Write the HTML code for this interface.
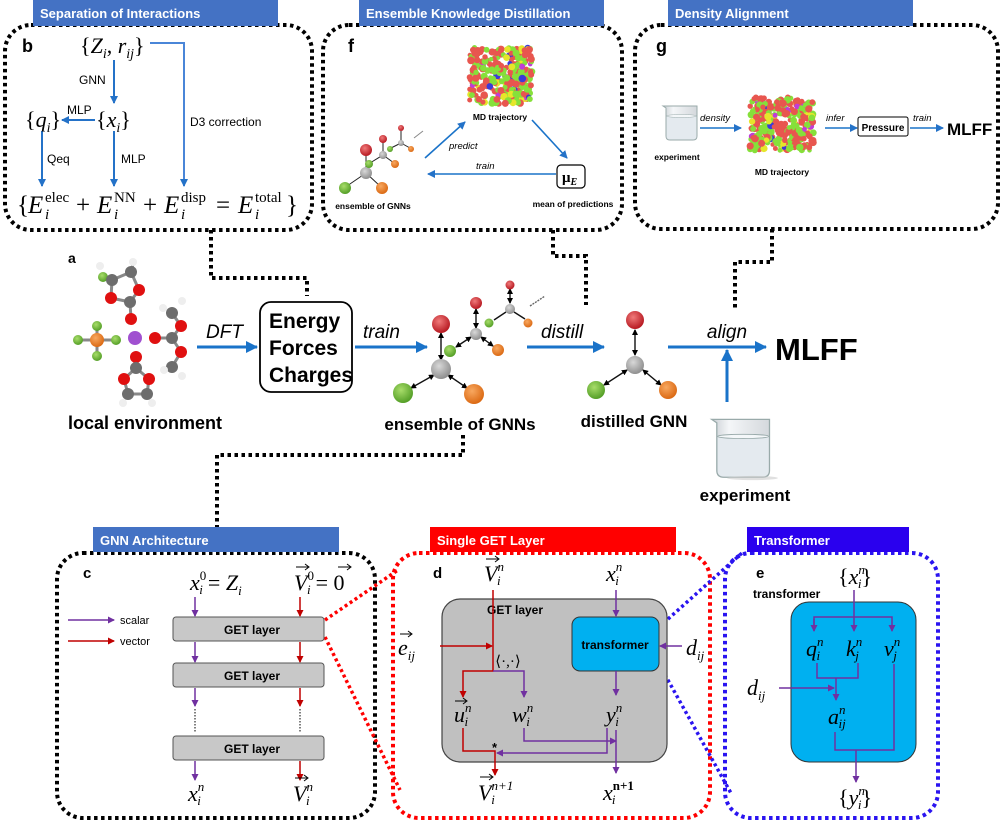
<!DOCTYPE html>
<html><head><meta charset="utf-8"><style>
html,body{margin:0;padding:0;background:#fff;}
svg{display:block;}
.t{font-family:"Liberation Sans",sans-serif;}
.b{font-family:"Liberation Sans",sans-serif;font-weight:bold;}
.m{font-family:"Liberation Serif",serif;font-style:italic;}
.r{font-family:"Liberation Serif",serif;}
</style></head><body>
<svg id="s" width="1000" height="822" viewBox="0 0 1000 822" xmlns="http://www.w3.org/2000/svg">
<defs>
<marker id="ab" markerWidth="8" markerHeight="8" refX="7" refY="4" orient="auto" markerUnits="userSpaceOnUse"><path d="M0,0 L8,4 L0,8 z" fill="#2472c8"/></marker>
<marker id="abL" markerWidth="12" markerHeight="12" refX="11" refY="6" orient="auto" markerUnits="userSpaceOnUse"><path d="M0,0 L12,6 L0,12 z" fill="#1a73c9"/></marker>
<marker id="ap" markerWidth="7" markerHeight="7" refX="6" refY="3.5" orient="auto" markerUnits="userSpaceOnUse"><path d="M0,0 L7,3.5 L0,7 z" fill="#7030a0"/></marker>
<marker id="ar" markerWidth="7" markerHeight="7" refX="6" refY="3.5" orient="auto" markerUnits="userSpaceOnUse"><path d="M0,0 L7,3.5 L0,7 z" fill="#c00000"/></marker>
<marker id="ak" markerWidth="6" markerHeight="6" refX="5" refY="3" orient="auto-start-reverse" markerUnits="userSpaceOnUse"><path d="M0,0 L6,3 L0,6 z" fill="#000"/></marker>
<radialGradient id="gR" cx="0.4" cy="0.35" r="0.7"><stop offset="0" stop-color="#f07a7a"/><stop offset="1" stop-color="#b3121b"/></radialGradient>
<radialGradient id="gG" cx="0.4" cy="0.35" r="0.7"><stop offset="0" stop-color="#a8dd6a"/><stop offset="1" stop-color="#4e9a22"/></radialGradient>
<radialGradient id="gO" cx="0.4" cy="0.35" r="0.7"><stop offset="0" stop-color="#f8a860"/><stop offset="1" stop-color="#d9650e"/></radialGradient>
<radialGradient id="gY" cx="0.4" cy="0.35" r="0.7"><stop offset="0" stop-color="#d8d8d8"/><stop offset="1" stop-color="#8a8a8a"/></radialGradient>
<linearGradient id="bk" x1="0" x2="1"><stop offset="0" stop-color="#c9ced3"/><stop offset="0.3" stop-color="#f4f6f8"/><stop offset="1" stop-color="#d4d8dc"/></linearGradient>
</defs>

<g fill="none" stroke="#000" stroke-width="4" stroke-dasharray="3.5 3.5">
<rect x="5" y="25" width="307" height="205" rx="26"/>
<rect x="323" y="25" width="299" height="205" rx="26"/>
<rect x="635" y="25" width="363" height="204" rx="26"/>
<rect x="57" y="553" width="318" height="265" rx="26"/>
<polyline points="211,230 211,278 307,278 307,296"/>
<polyline points="553,230 553,256 586,256 586,305"/>
<polyline points="772,229 772,262 735,262 735,311"/>
<polyline points="463,435 463,455 217,455 217,527"/>
</g>
<rect x="393" y="553" width="317" height="265" rx="26" fill="none" stroke="#f00" stroke-width="4" stroke-dasharray="3.5 3.5"/>
<rect x="725" y="553" width="213" height="265" rx="26" fill="none" stroke="#2a14f0" stroke-width="4" stroke-dasharray="3.5 3.5"/>
<g stroke="#f00" stroke-width="3.5" stroke-dasharray="3 3" fill="none">
<line x1="325" y1="620" x2="398" y2="570"/>
<line x1="325" y1="637" x2="400" y2="790"/>
</g>
<g stroke="#2a14f0" stroke-width="3.5" stroke-dasharray="3 3" fill="none">
<line x1="659" y1="627" x2="742" y2="553"/>
<line x1="659" y1="664" x2="732" y2="795"/>
</g>

<rect x="33" y="0" width="245" height="26" fill="#4472c4"/>
<text x="40" y="18" class="b" font-size="13" fill="#fff">Separation of Interactions</text>
<rect x="359" y="0" width="245" height="26" fill="#4472c4"/>
<text x="366" y="18" class="b" font-size="13" fill="#fff">Ensemble Knowledge Distillation</text>
<rect x="668" y="0" width="245" height="26" fill="#4472c4"/>
<text x="675" y="18" class="b" font-size="13" fill="#fff">Density Alignment</text>
<rect x="93" y="527" width="246" height="25" fill="#4472c4"/>
<text x="100" y="545" class="b" font-size="13" fill="#fff">GNN Architecture</text>
<rect x="430" y="527" width="246" height="25" fill="#f00"/>
<text x="437" y="545" class="b" font-size="13" fill="#fff">Single GET Layer</text>
<rect x="747" y="527" width="162" height="25" fill="#2a00ee"/>
<text x="754" y="545" class="b" font-size="13" fill="#fff">Transformer</text>

<!-- Panel b -->
<text x="22" y="52" class="b" font-size="18">b</text>
<text x="80" y="53" class="r" font-size="22">{<tspan class="m">Z</tspan><tspan class="m" font-size="14" dy="5">i</tspan><tspan dy="-5">, </tspan><tspan class="m">r</tspan><tspan class="m" font-size="14" dy="5">ij</tspan><tspan dy="-5">}</tspan></text>
<g stroke="#2472c8" stroke-width="2" fill="none">
<line x1="114" y1="60" x2="114" y2="103" marker-end="url(#ab)"/>
<line x1="95" y1="120" x2="62" y2="120" marker-end="url(#ab)"/>
<line x1="42" y1="131" x2="42" y2="186" marker-end="url(#ab)"/>
<line x1="114" y1="131" x2="114" y2="186" marker-end="url(#ab)"/>
<polyline points="150,43 184,43 184,186" stroke="#4a86d8" marker-end="url(#ab)"/>
</g>
<text x="79" y="84" class="t" font-size="12">GNN</text>
<text x="67" y="114" class="t" font-size="12">MLP</text>
<text x="47" y="163" class="t" font-size="12">Qeq</text>
<text x="121" y="163" class="t" font-size="12">MLP</text>
<text x="190" y="126" class="t" font-size="12">D3 correction</text>
<text x="25" y="127" class="r" font-size="22">{<tspan class="m">q</tspan><tspan class="m" font-size="14" dy="5">i</tspan><tspan dy="-5">}</tspan></text>
<text x="96" y="127" class="r" font-size="22">{<tspan class="m">x</tspan><tspan class="m" font-size="14" dy="5">i</tspan><tspan dy="-5">}</tspan></text>
<g class="r" font-size="25">
<text x="17" y="213">{</text>
<text x="28" y="213" class="m">E</text><text x="45" y="202" font-size="15">elec</text><text x="45" y="219" class="m" font-size="15">i</text>
<text x="76" y="213">+</text>
<text x="97" y="213" class="m">E</text><text x="114" y="202" font-size="15">NN</text><text x="114" y="219" class="m" font-size="15">i</text>
<text x="143" y="213">+</text>
<text x="164" y="213" class="m">E</text><text x="181" y="202" font-size="15">disp</text><text x="181" y="219" class="m" font-size="15">i</text>
<text x="216" y="213">=</text>
<text x="238" y="213" class="m">E</text><text x="255" y="202" font-size="15">total</text><text x="255" y="219" class="m" font-size="15">i</text>
<text x="286" y="213">}</text>
</g>

<!-- Panel f -->
<text x="348" y="52" class="b" font-size="18">f</text>
<g id="blobF"></g>
<text x="500" y="120" class="b" font-size="8.5" text-anchor="middle">MD trajectory</text>
<g stroke="#1a73c9" stroke-width="1.6" fill="none">
<line x1="425" y1="158" x2="465" y2="122" marker-end="url(#ab)"/>
<line x1="532" y1="120" x2="567" y2="158" marker-end="url(#ab)"/>
<line x1="556" y1="174" x2="428" y2="174" marker-end="url(#ab)"/>
</g>
<text x="449" y="149" class="t" font-style="italic" font-size="9.5">predict</text>
<text x="476" y="169" class="t" font-style="italic" font-size="9.5">train</text>
<rect x="557" y="165" width="28" height="23" rx="4" fill="#fff" stroke="#000" stroke-width="1.2"/>
<text x="562" y="182" class="r" font-weight="bold" font-size="15">μ<tspan class="m" font-size="10" dy="3">E</tspan></text>
<text x="573" y="207" class="b" font-size="8.5" text-anchor="middle">mean of predictions</text>
<g stroke="#222" stroke-width="1" fill="none">
<line x1="366" y1="156" x2="366" y2="168"/><line x1="366" y1="173" x2="347" y2="186"/><line x1="366" y1="173" x2="380" y2="186"/>
<line x1="383" y1="142" x2="383" y2="153"/><line x1="383" y1="155" x2="370" y2="163"/><line x1="383" y1="155" x2="394" y2="163"/>
<line x1="401" y1="131" x2="401" y2="141"/><line x1="401" y1="143" x2="391" y2="148"/><line x1="401" y1="143" x2="410" y2="148"/>
<line x1="414" y1="138" x2="423" y2="131" stroke="#888"/>
</g>
<circle cx="366" cy="150" r="6" fill="url(#gR)"/><circle cx="366" cy="173" r="6" fill="url(#gY)"/><circle cx="345" cy="188" r="6" fill="url(#gG)"/><circle cx="382" cy="188" r="6" fill="url(#gO)"/>
<circle cx="383" cy="139" r="4" fill="url(#gR)"/><circle cx="383" cy="155" r="4" fill="url(#gY)"/><circle cx="369" cy="164" r="4" fill="url(#gG)"/><circle cx="395" cy="164" r="4" fill="url(#gO)"/>
<circle cx="401" cy="128" r="3" fill="url(#gR)"/><circle cx="401" cy="143" r="3" fill="url(#gY)"/><circle cx="390" cy="149" r="3" fill="url(#gG)"/><circle cx="411" cy="149" r="3" fill="url(#gO)"/>
<text x="373" y="209" class="b" font-size="8.5" text-anchor="middle">ensemble of GNNs</text>

<!-- Panel g -->
<text x="656" y="52" class="b" font-size="18">g</text>
<g transform="translate(662,104) scale(0.5)">
<path d="M2,4 L8,8 L8,64 Q8,72 16,72 L62,72 Q70,72 70,64 L70,4 Z" fill="url(#bk)" stroke="#9aa" stroke-width="2"/>
<path d="M9,24 L69,24 L69,64 Q69,71 62,71 L16,71 Q9,71 9,64 Z" fill="#e4eaef"/>
<ellipse cx="39" cy="24" rx="30" ry="3" fill="#f4f7f9" stroke="#9aa"/>
</g>
<text x="677" y="160" class="b" font-size="8.5" text-anchor="middle">experiment</text>
<line x1="700" y1="128" x2="741" y2="128" stroke="#1a73c9" stroke-width="1.6" marker-end="url(#ab)"/>
<text x="700" y="121" class="t" font-style="italic" font-size="9.5">density</text>
<g id="blobG"></g>
<text x="782" y="175" class="b" font-size="8.5" text-anchor="middle">MD trajectory</text>
<line x1="825" y1="128" x2="857" y2="128" stroke="#1a73c9" stroke-width="1.6" marker-end="url(#ab)"/>
<text x="826" y="121" class="t" font-style="italic" font-size="9.5">infer</text>
<rect x="858" y="117" width="50" height="19" rx="2" fill="#fff" stroke="#000" stroke-width="1"/>
<text x="883" y="131" class="b" font-size="10" text-anchor="middle">Pressure</text>
<line x1="910" y1="128" x2="943" y2="128" stroke="#1a73c9" stroke-width="1.6" marker-end="url(#ab)"/>
<text x="913" y="121" class="t" font-style="italic" font-size="9.5">train</text>
<text x="947" y="135" class="b" font-size="17">MLFF</text>

<!-- Panel a -->
<text x="68" y="263" class="b" font-size="14">a</text>
<g stroke="#888" stroke-width="3">
<line x1="103" y1="277" x2="112" y2="280"/><line x1="112" y1="280" x2="131" y2="272"/><line x1="131" y1="272" x2="139" y2="290"/><line x1="139" y1="290" x2="130" y2="302"/><line x1="130" y1="302" x2="111" y2="298"/><line x1="111" y1="298" x2="112" y2="280"/><line x1="130" y1="302" x2="131" y2="319"/><line x1="131" y1="272" x2="133" y2="264"/>
<line x1="78" y1="340" x2="116" y2="340"/><line x1="97" y1="325" x2="97" y2="356"/>
<line x1="155" y1="338" x2="172" y2="338"/><line x1="172" y1="338" x2="181" y2="326"/><line x1="172" y1="338" x2="181" y2="352"/><line x1="181" y1="326" x2="172" y2="313"/><line x1="181" y1="352" x2="172" y2="367"/>
<line x1="136" y1="357" x2="136" y2="368"/><line x1="136" y1="368" x2="124" y2="379"/><line x1="136" y1="368" x2="149" y2="379"/><line x1="124" y1="379" x2="128" y2="394"/><line x1="149" y1="379" x2="147" y2="394"/><line x1="128" y1="394" x2="147" y2="394"/>
</g>
<g>
<circle cx="103" cy="277" r="5" fill="url(#gG)"/><circle cx="112" cy="280" r="6" fill="#6d6d6d"/><circle cx="131" cy="272" r="6" fill="#6d6d6d"/><circle cx="133" cy="262" r="4" fill="#eee"/><circle cx="100" cy="266" r="4" fill="#eee"/>
<circle cx="139" cy="290" r="6" fill="#e01010"/><circle cx="130" cy="302" r="6" fill="#6d6d6d"/><circle cx="111" cy="298" r="6" fill="#e01010"/><circle cx="131" cy="319" r="6" fill="#e01010"/>
<circle cx="78" cy="340" r="5" fill="url(#gG)"/><circle cx="116" cy="340" r="5" fill="url(#gG)"/><circle cx="97" cy="326" r="5" fill="url(#gG)"/><circle cx="97" cy="356" r="5" fill="url(#gG)"/><circle cx="97" cy="340" r="7" fill="url(#gO)"/>
<circle cx="135" cy="338" r="7" fill="#a050d0"/>
<circle cx="155" cy="338" r="6" fill="#e01010"/><circle cx="172" cy="338" r="6" fill="#6d6d6d"/><circle cx="181" cy="326" r="6" fill="#e01010"/><circle cx="181" cy="352" r="6" fill="#e01010"/>
<circle cx="172" cy="313" r="6" fill="#6d6d6d"/><circle cx="182" cy="301" r="4" fill="#eee"/><circle cx="163" cy="308" r="4" fill="#eee"/>
<circle cx="172" cy="367" r="6" fill="#6d6d6d"/><circle cx="182" cy="376" r="4" fill="#eee"/><circle cx="164" cy="370" r="4" fill="#eee"/>
<circle cx="136" cy="357" r="6" fill="#e01010"/><circle cx="136" cy="368" r="6" fill="#6d6d6d"/><circle cx="124" cy="379" r="6" fill="#e01010"/><circle cx="149" cy="379" r="6" fill="#e01010"/><circle cx="128" cy="394" r="6" fill="#6d6d6d"/><circle cx="147" cy="394" r="6" fill="#6d6d6d"/><circle cx="123" cy="403" r="4" fill="#eee"/><circle cx="152" cy="403" r="4" fill="#eee"/>
</g>
<text x="145" y="429" class="b" font-size="18" text-anchor="middle">local environment</text>
<line x1="197" y1="347" x2="257" y2="347" stroke="#1a73c9" stroke-width="3" marker-end="url(#abL)"/>
<text x="206" y="338" class="t" font-style="italic" font-size="19">DFT</text>
<rect x="260" y="302" width="92" height="90" rx="11" fill="#fff" stroke="#000" stroke-width="1.8"/>
<text x="269" y="328" class="b" font-size="21">Energy</text>
<text x="269" y="355" class="b" font-size="21">Forces</text>
<text x="269" y="382" class="b" font-size="21">Charges</text>
<line x1="355" y1="347" x2="427" y2="347" stroke="#1a73c9" stroke-width="3" marker-end="url(#abL)"/>
<text x="363" y="338" class="t" font-style="italic" font-size="19">train</text>
<g stroke="#111" stroke-width="1.4" fill="none">
<line x1="441" y1="333" x2="441" y2="360" marker-start="url(#ak)" marker-end="url(#ak)"/>
<line x1="434" y1="375" x2="411" y2="388" marker-start="url(#ak)" marker-end="url(#ak)"/>
<line x1="448" y1="375" x2="467" y2="388" marker-start="url(#ak)" marker-end="url(#ak)"/>
<line x1="476" y1="309" x2="476" y2="328" marker-start="url(#ak)" marker-end="url(#ak)"/>
<line x1="471" y1="337" x2="456" y2="347" marker-start="url(#ak)" marker-end="url(#ak)"/>
<line x1="481" y1="337" x2="493" y2="346" marker-start="url(#ak)" marker-end="url(#ak)"/>
<line x1="510" y1="289" x2="510" y2="303" marker-start="url(#ak)" marker-end="url(#ak)"/>
<line x1="506" y1="312" x2="494" y2="320"/><line x1="514" y1="312" x2="525" y2="319"/>
<line x1="530" y1="306" x2="545" y2="296" stroke="#666" stroke-dasharray="2 1"/>
</g>
<circle cx="441" cy="324" r="9" fill="url(#gR)"/><circle cx="441" cy="369" r="10" fill="url(#gY)"/><circle cx="403" cy="393" r="10" fill="url(#gG)"/><circle cx="474" cy="394" r="10" fill="url(#gO)"/>
<circle cx="476" cy="303" r="6" fill="url(#gR)"/><circle cx="476" cy="334" r="6" fill="url(#gY)"/><circle cx="450" cy="351" r="6" fill="url(#gG)"/><circle cx="498" cy="350" r="6" fill="url(#gO)"/>
<circle cx="510" cy="285" r="4.5" fill="url(#gR)"/><circle cx="510" cy="309" r="5" fill="url(#gY)"/><circle cx="489" cy="323" r="4.5" fill="url(#gG)"/><circle cx="528" cy="323" r="4.5" fill="url(#gO)"/>
<text x="460" y="430" class="b" font-size="17" text-anchor="middle">ensemble of GNNs</text>
<line x1="527" y1="347" x2="604" y2="347" stroke="#1a73c9" stroke-width="3" marker-end="url(#abL)"/>
<text x="541" y="338" class="t" font-style="italic" font-size="19">distill</text>
<g stroke="#111" stroke-width="1.4" fill="none">
<line x1="635" y1="330" x2="635" y2="355" marker-start="url(#ak)" marker-end="url(#ak)"/>
<line x1="627" y1="370" x2="604" y2="385" marker-start="url(#ak)" marker-end="url(#ak)"/>
<line x1="643" y1="370" x2="661" y2="385" marker-start="url(#ak)" marker-end="url(#ak)"/>
</g>
<circle cx="635" cy="320" r="9" fill="url(#gR)"/><circle cx="635" cy="365" r="9" fill="url(#gY)"/><circle cx="596" cy="390" r="9" fill="url(#gG)"/><circle cx="668" cy="390" r="9" fill="url(#gO)"/>
<text x="634" y="427" class="b" font-size="17" text-anchor="middle">distilled GNN</text>
<line x1="668" y1="347" x2="766" y2="347" stroke="#1a73c9" stroke-width="3" marker-end="url(#abL)"/>
<line x1="727" y1="402" x2="727" y2="350" stroke="#1a73c9" stroke-width="3" marker-end="url(#abL)"/>
<text x="727" y="338" class="t" font-style="italic" font-size="19" text-anchor="middle">align</text>
<text x="775" y="360" class="b" font-size="31">MLFF</text>
<g transform="translate(710,416) scale(0.85)">
<path d="M2,4 L8,8 L8,64 Q8,72 16,72 L62,72 Q70,72 70,64 L70,4 Z" fill="url(#bk)" stroke="#9aa" stroke-width="1.5"/>
<path d="M9,24 L69,24 L69,64 Q69,71 62,71 L16,71 Q9,71 9,64 Z" fill="#e4eaef"/>
<ellipse cx="39" cy="24" rx="30" ry="2.5" fill="#f4f7f9" stroke="#9aa"/>
<ellipse cx="50" cy="73" rx="30" ry="2.5" fill="#ccc" opacity="0.6"/>
</g>
<text x="745" y="501" class="b" font-size="17" text-anchor="middle">experiment</text>

<!-- Panel c -->
<text x="83" y="578" class="b" font-size="15">c</text>
<text x="190" y="590" class="m" font-size="22">x<tspan font-size="13" dy="-10" font-style="normal">0</tspan><tspan font-size="13" dx="-7" dy="14">i</tspan><tspan font-style="normal" dx="5" dy="-4">= </tspan>Z<tspan font-size="13" dy="5">i</tspan></text>
<text x="294" y="590" class="m" font-size="22">V<tspan font-size="13" dy="-10" font-style="normal">0</tspan><tspan font-size="13" dx="-7" dy="14">i</tspan><tspan font-style="normal" dx="5" dy="-4">= 0</tspan></text>
<path d="M296,567 L308,567 M305,564 L309,567 L305,570" stroke="#000" stroke-width="1" fill="none"/>
<path d="M338,567 L350,567 M347,564 L351,567 L347,570" stroke="#000" stroke-width="1" fill="none"/>
<line x1="68" y1="620" x2="114" y2="620" stroke="#7030a0" stroke-width="1.5" marker-end="url(#ap)"/>
<line x1="68" y1="641" x2="114" y2="641" stroke="#c00000" stroke-width="1.5" marker-end="url(#ar)"/>
<text x="120" y="624" class="t" font-size="11">scalar</text>
<text x="120" y="645" class="t" font-size="11">vector</text>
<g fill="#c8c8c8" stroke="#555" stroke-width="1">
<rect x="173" y="617" width="151" height="24" rx="3"/>
<rect x="173" y="663" width="151" height="24" rx="3"/>
<rect x="173" y="736" width="151" height="24" rx="3"/>
</g>
<text x="252" y="634" class="b" font-size="12" text-anchor="middle">GET layer</text>
<text x="252" y="680" class="b" font-size="12" text-anchor="middle">GET layer</text>
<text x="252" y="753" class="b" font-size="12" text-anchor="middle">GET layer</text>
<g stroke-width="1.5">
<line x1="195" y1="597" x2="195" y2="616" stroke="#7030a0" marker-end="url(#ap)"/>
<line x1="195" y1="642" x2="195" y2="662" stroke="#7030a0" marker-end="url(#ap)"/>
<line x1="195" y1="688" x2="195" y2="706" stroke="#7030a0" marker-end="url(#ap)"/>
<line x1="195" y1="761" x2="195" y2="780" stroke="#7030a0" marker-end="url(#ap)"/>
<line x1="300" y1="597" x2="300" y2="616" stroke="#c00000" marker-end="url(#ar)"/>
<line x1="300" y1="642" x2="300" y2="662" stroke="#c00000" marker-end="url(#ar)"/>
<line x1="300" y1="688" x2="300" y2="706" stroke="#c00000" marker-end="url(#ar)"/>
<line x1="300" y1="761" x2="300" y2="780" stroke="#c00000" marker-end="url(#ar)"/>
<line x1="195" y1="709" x2="195" y2="733" stroke="#000" stroke-width="1" stroke-dasharray="1.5 1.5"/>
<line x1="300" y1="709" x2="300" y2="733" stroke="#000" stroke-width="1" stroke-dasharray="1.5 1.5"/>
</g>
<text x="188" y="801" class="m" font-size="22">x<tspan font-size="13" dy="-10">n</tspan><tspan font-size="13" dx="-7" dy="14">i</tspan></text>
<text x="293" y="801" class="m" font-size="22">V<tspan font-size="13" dy="-10">n</tspan><tspan font-size="13" dx="-7" dy="14">i</tspan></text>
<path d="M295,778 L307,778 M304,775 L308,778 L304,781" stroke="#000" stroke-width="1" fill="none"/>

<!-- Panel d -->
<text x="433" y="578" class="b" font-size="15">d</text>
<rect x="442" y="599" width="225" height="163" rx="18" fill="#c0c0c0" stroke="#444" stroke-width="1.2"/>
<text x="515" y="614" class="b" font-size="12" text-anchor="middle">GET layer</text>
<rect x="572" y="617" width="87" height="54" rx="8" fill="#00b0f0" stroke="#333" stroke-width="1"/>
<text x="615" y="649" class="b" font-size="12" text-anchor="middle">transformer</text>
<text x="484" y="581" class="m" font-size="22">V<tspan font-size="13" dy="-10">n</tspan><tspan font-size="13" dx="-7" dy="14">i</tspan></text>
<path d="M486,559 L498,559 M495,556 L499,559 L495,562" stroke="#000" stroke-width="1" fill="none"/>
<text x="606" y="581" class="m" font-size="22">x<tspan font-size="13" dy="-10">n</tspan><tspan font-size="13" dx="-7" dy="14">i</tspan></text>
<text x="398" y="655" class="m" font-size="22">e<tspan font-size="13" dy="5">ij</tspan></text>
<path d="M400,634 L411,634 M408,631 L412,634 L408,637" stroke="#000" stroke-width="1" fill="none"/>
<text x="686" y="655" class="m" font-size="22">d<tspan font-size="13" dy="5">ij</tspan></text>
<g stroke-width="1.5" fill="none">
<line x1="440" y1="646" x2="492" y2="646" stroke="#c00000" marker-end="url(#ar)"/>
<polyline points="493,590 493,671 463,671 463,697" stroke="#c00000" marker-end="url(#ar)"/>
<polyline points="493,671 524,671 524,697" stroke="#7030a0" marker-end="url(#ap)"/>
<line x1="682" y1="646" x2="660" y2="646" stroke="#7030a0" marker-end="url(#ap)"/>
<line x1="616" y1="590" x2="616" y2="616" stroke="#7030a0" marker-end="url(#ap)"/>
<line x1="616" y1="671" x2="616" y2="695" stroke="#7030a0" marker-end="url(#ap)"/>
<polyline points="524,728 524,741 616,741" stroke="#7030a0" marker-end="url(#ap)"/>
<polyline points="607,728 607,753 497,753" stroke="#7030a0" marker-end="url(#ap)"/>
<polyline points="463,728 463,751 495,751 495,775" stroke="#c00000" marker-end="url(#ar)"/>
<line x1="616" y1="730" x2="616" y2="773" stroke="#7030a0" marker-end="url(#ap)"/>
</g>
<text x="508" y="666" class="r" font-size="15" text-anchor="middle">⟨·,·⟩</text>
<text x="454" y="722" class="m" font-size="22">u<tspan font-size="13" dy="-10">n</tspan><tspan font-size="13" dx="-7" dy="14">i</tspan></text>
<path d="M455,701 L466,701 M463,698 L467,701 L463,704" stroke="#000" stroke-width="1" fill="none"/>
<text x="512" y="722" class="m" font-size="22">w<tspan font-size="13" dy="-10">n</tspan><tspan font-size="13" dx="-7" dy="14">i</tspan></text>
<text x="606" y="722" class="m" font-size="22">y<tspan font-size="13" dy="-10">n</tspan><tspan font-size="13" dx="-7" dy="14">i</tspan></text>
<text x="492" y="752" class="b" font-size="13">*</text>
<text x="478" y="800" class="m" font-size="22">V<tspan font-size="13" dy="-10">n+1</tspan><tspan font-size="13" dx="-22" dy="14">i</tspan></text>
<path d="M480,777 L492,777 M489,774 L493,777 L489,780" stroke="#000" stroke-width="1" fill="none"/>
<text x="603" y="800" class="m" font-size="22">x<tspan font-size="13" dy="-10" font-weight="bold" font-style="normal">n+1</tspan><tspan font-size="13" dx="-22" dy="14">i</tspan></text>

<!-- Panel e -->
<text x="756" y="578" class="b" font-size="15">e</text>
<text x="838" y="584" class="r" font-size="22">{<tspan class="m">x</tspan><tspan class="m" font-size="13" dy="-10">n</tspan><tspan class="m" font-size="13" dx="-7" dy="14">i</tspan><tspan dy="-4">}</tspan></text>
<text x="753" y="598" class="b" font-size="12">transformer</text>
<rect x="791" y="602" width="125" height="160" rx="18" fill="#00b0f0" stroke="#333" stroke-width="1"/>
<g stroke="#7030a0" stroke-width="1.5" fill="none">
<line x1="854" y1="590" x2="854" y2="631" marker-end="url(#ap)"/>
<polyline points="814,631 814,617 892,617 892,631" marker-end="url(#ap)"/>
<line x1="814" y1="619" x2="814" y2="631" marker-end="url(#ap)"/>
<polyline points="817,663 817,678 858,678 858,663"/>
<line x1="836" y1="678" x2="836" y2="700" marker-end="url(#ap)"/>
<line x1="779" y1="688" x2="834" y2="688" marker-end="url(#ap)"/>
<polyline points="835,732 835,750 894,750 894,664"/>
<line x1="856" y1="750" x2="856" y2="782" marker-end="url(#ap)"/>
</g>
<text x="806" y="656" class="m" font-size="22">q<tspan font-size="13" dy="-10">n</tspan><tspan font-size="13" dx="-7" dy="14">i</tspan></text>
<text x="846" y="656" class="m" font-size="22">k<tspan font-size="13" dy="-10">n</tspan><tspan font-size="13" dx="-7" dy="14">j</tspan></text>
<text x="884" y="656" class="m" font-size="22">v<tspan font-size="13" dy="-10">n</tspan><tspan font-size="13" dx="-7" dy="14">j</tspan></text>
<text x="747" y="695" class="m" font-size="22">d<tspan font-size="13" dy="5">ij</tspan></text>
<text x="828" y="724" class="m" font-size="22">a<tspan font-size="13" dy="-10">n</tspan><tspan font-size="13" dx="-7" dy="14">ij</tspan></text>
<text x="838" y="805" class="r" font-size="22">{<tspan class="m">y</tspan><tspan class="m" font-size="13" dy="-10">n</tspan><tspan class="m" font-size="13" dx="-7" dy="14">i</tspan><tspan dy="-4">}</tspan></text>
</svg>
<script>
(function(){
var seed=7;function rnd(){seed=(seed*16807)%2147483647;return seed/2147483647;}
function blob(id,cx,cy,rx,ry,n){
 var g=document.getElementById(id),s="";
 for(var i=0;i<n;i++){
  var x=cx+(rnd()*2-1)*rx*0.92,y=cy+(rnd()*2-1)*ry*0.92;
  var p=rnd(),c=p<0.55?"#e8564f":(p<0.88?"#86e03a":(p<0.93?"#e6e62a":(p<0.97?"#3b3bd8":"#c03cd8")));
  s+='<circle cx="'+x.toFixed(1)+'" cy="'+y.toFixed(1)+'" r="'+(2.2+rnd()*1.6).toFixed(1)+'" fill="'+c+'"/>';
 }
 g.innerHTML=s;
}
blob("blobF",501,76,34,31,300);
blob("blobG",782,124,35,29,300);
})();
</script>
</body></html>
